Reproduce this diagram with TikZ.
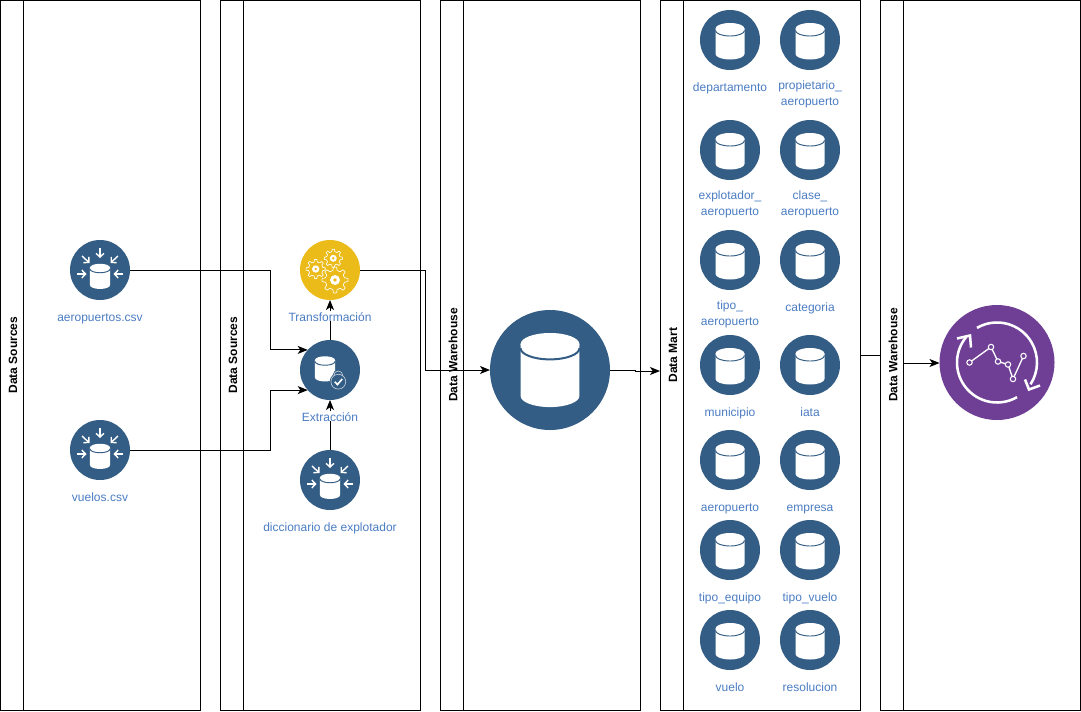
\documentclass[tikz,border=0pt]{standalone}
\usepackage{fontspec}
\setmainfont{Liberation Sans}
\usetikzlibrary{arrows.meta}
\definecolor{dbblue}{HTML}{335D84}
\definecolor{goldc}{HTML}{EBBB1A}
\definecolor{purp}{HTML}{6F3F96}
\definecolor{lbl}{HTML}{4A7CC2}
\def\rimw{0.7pt}
\tikzset{
  x=0.75pt,y=-0.75pt,
  lane/.style={draw=black,line width=0.75pt,minimum width=150pt,minimum height=532.5pt,inner sep=0pt,outer sep=0pt,rectangle},
  lanetitle/.style={rotate=90,font=\bfseries\fontsize{9}{11}\selectfont,inner sep=0pt,text=black},
  disc/.style={circle,fill=#1,minimum size=45pt,inner sep=0pt,outer sep=0pt},
  bigdisc/.style={circle,fill=#1,inner sep=0pt,outer sep=0pt},
  lab/.style={font=\fontsize{9}{10.5}\selectfont,text=lbl,align=center,inner sep=0pt,anchor=north,execute at begin node={\rule{0pt}{7.5pt}}},
  labw/.style={lab,fill=white},
  conn/.style={draw=black,line width=0.75pt,-{Stealth[length=7.5pt,width=6pt,inset=2pt]}},
  plainconn/.style={draw=black,line width=0.75pt},
  cyl/.pic={
    \fill[white] (-14.5,-11.5) -- (14.5,-11.5) -- (14.5,14) arc[start angle=0,end angle=180,x radius=14.5,y radius=5.5] -- cycle;
    \fill[white] (0,-11.5) ellipse[x radius=14.5,y radius=5.5];
    \draw[dbblue,line width=\rimw] (-14.5,-9.5) arc[start angle=180,end angle=0,x radius=14.5,y radius=5.5];
  },
  inarrow/.style={white,line width=1.05pt,-{Straight Barb[length=2.8pt,width=6pt]}},
  srcicon/.pic={
    \pic[shift={(0,5.5)},scale=0.69] {cyl};
    \foreach \ax/\ay/\bx/\by in {0/-22/0/-12, -18/-14/-10.5/-7, 18/-14/10.5/-7, -23/4/-13.5/4, 23/4/13.5/4}
      \draw[inarrow] (\ax,\ay) -- (\bx,\by);
  },
  gearicon/.pic={
    \foreach \cx/\cy/\s in {-14.3/-1/0.8, 3.3/-11.7/0.76, 5/10/1.08}{
      \begin{scope}[shift={(\cx,\cy)},scale=\s]
        \draw[white,line width=0.5pt,line join=round]
          (0:12) \foreach \a in {0,45,...,315}{
            -- ({\a+7}:12) -- ({\a+13}:9) -- ({\a+32}:9) -- ({\a+38}:12) -- ({\a+45}:12)} -- cycle;
        \fill[white] (0,0) circle[radius=4.6];
        \fill[goldc] (0,0) circle[radius=1.8];
      \end{scope}
    }
  },
  lockicon/.pic={
    \pic[shift={(-5,-2)},scale=0.69] {cyl};
    \fill[dbblue] (8.3,11.7) circle[radius=8.6];
    \draw[dbblue,line width=1.7pt] (3.8,7) -- (3.8,5.5) arc[start angle=180,end angle=360,radius=4.5] -- (12.8,7);
    \draw[white!75!dbblue,line width=0.45pt] (8.3,11.7) circle[radius=7.4];
    \draw[white!75!dbblue,line width=0.45pt] (3.8,5.8) -- (3.8,5.5) arc[start angle=180,end angle=360,radius=4.5] -- (12.8,5.8);
    \draw[white,line width=1.2pt] (4.8,11.7) -- (7.4,14.6) -- (12.2,9);
  },
  trendicon/.pic={
    \draw[white,line width=1.9pt] (-120:40) arc[start angle=-120,end angle=33,radius=40];
    \draw[white,line width=1.9pt] (60:40) arc[start angle=60,end angle=220,radius=40];
    \draw[white,line width=1.9pt,line join=miter] (-40,-24) -- (-27,-27) -- (-26,-15);
    \draw[white,line width=1.9pt,line join=miter] (28,17) -- (32,27) -- (43,23);
    \draw[white,line width=1pt] (-27.5,0) -- (-6,-15.5) -- (1,-1) -- (11,2) -- (16,16.5) -- (26.5,-6.5);
    \foreach \px/\py in {-27.5/0,-6/-15.5,1/-1,11/2,16/16.5,26.5/-6.5}
      \draw[white,fill=purp,line width=0.8pt] (\px,\py) circle[radius=2.7];
  }
}
\begin{document}
\begin{tikzpicture}
\useasboundingbox (0,0) rectangle (1081,711);
% lanes
\foreach \n/\cx/\t in {l1/100/Data Sources,l2/320/Data Sources,l3/540/Data Warehouse,l4/760/Data Mart,l5/980/Data Warehouse}{
  \node[lane] (\n) at (\cx,355.5) {};
  \draw[line width=0.75pt] (\cx-77,0.5) -- (\cx-77,710.5);
  \node[lanetitle] (\n t) at (\cx-87,355) {\t};
}
% sources
\node[disc=dbblue] (aer) at (100,270) {};
\pic at (aer) {srcicon};
\node[lab] (aerl) at (100,311) {aeropuertos.csv};
\node[disc=dbblue] (vue) at (100,450) {};
\pic at (vue) {srcicon};
\node[lab] (vuel) at (100,491) {vuelos.csv};
% process
\node[disc=goldc] (tra) at (330,270) {};
\pic at (tra) {gearicon};
\node[disc=dbblue] (ext) at (330,370) {};
\pic at (ext) {lockicon};
\node[disc=dbblue] (dic) at (330,480) {};
\pic at (dic) {srcicon};
\node[lab] (dicl) at (330,521) {diccionario de explotador};
% warehouse and analysis
\node[bigdisc=dbblue,minimum size=90pt] (big) at (550,370) {};
{\def\rimw{1.5pt}\pic[scale=2.03] at (550,367.5) {cyl};}
\node[bigdisc=purp,minimum size=86.25pt] (ana) at (997,362.5) {};
\pic at (ana) {trendicon};
% mart
\foreach \n/\x/\y/\t in {
 m1/730/40/departamento, m2/810/40/{propietario\_\\[1.5pt]aeropuerto},
 m3/730/150/{explotador\_\\[1.5pt]aeropuerto}, m4/810/150/{clase\_\\[1.5pt]aeropuerto},
 m5/730/260/{tipo\_\\[1.5pt]aeropuerto}, m6/810/260/categoria,
 m7/730/365/municipio, m8/810/365/iata,
 m9/730/460/aeropuerto, m10/810/460/empresa,
 m11/730/550/tipo\_equipo, m12/810/550/tipo\_vuelo,
 m13/730/640/vuelo, m14/810/640/resolucion}{
  \node[disc=dbblue] (\n) at (\x,\y) {};
  \pic at (\n) {cyl};
  \node[lab] (\n l) at (\x,\y+41) {\t};
}
% connectors
\coordinate (j1) at (270,270);
\coordinate (j2) at (270,450);
\coordinate (j3) at (425,270);
\coordinate (j4) at (425,370);
\coordinate (j5) at (635,370);
\coordinate (j6) at (635,371);
\coordinate (j7) at (660,371);
\coordinate (j8) at (903,363);
\coordinate (j9) at (939.5,363);
\draw[conn] (aer.east) -- (j1) |- (ext.138);
\draw[conn] (vue.east) -- (j2) |- (ext.222);
\draw[conn] (ext.north) -- (tra.south);
\draw[conn] (dic.north) -- (ext.south);
\draw[conn] (tra.east) -- (j3) -- (j4) -- (big.west);
\draw[conn] (big.east) -- (j5) -- (j6) -- (j7);
\draw[plainconn] (l4.east) -- (l5.west);
\draw[conn] (j8) -- (j9);
\node[labw] (tral) at (330,311) {Transformación};
\node[labw] (extl) at (330,411) {Extracción};
\end{tikzpicture}
\end{document}
